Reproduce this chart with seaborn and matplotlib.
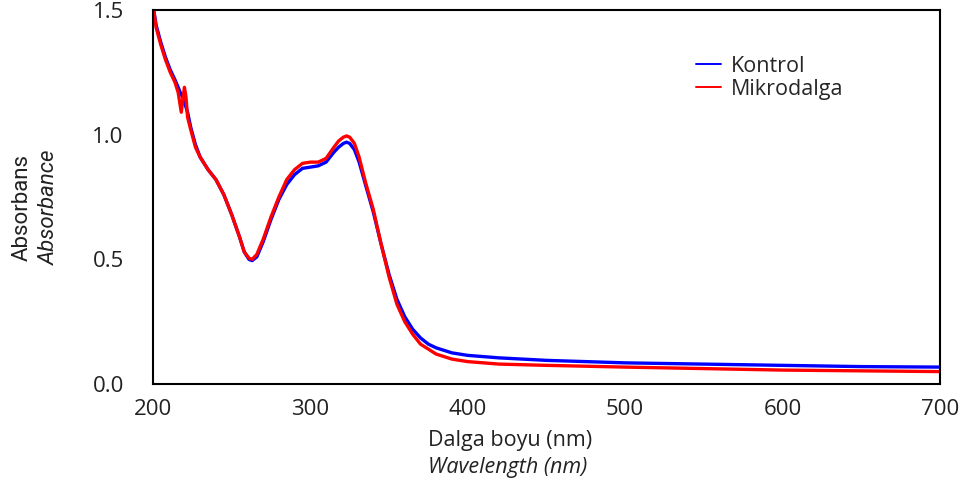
import matplotlib
matplotlib.use("Agg")
import matplotlib.pyplot as plt
from matplotlib import font_manager
import seaborn as sns
import pandas as pd

wavelength = [200, 202, 205, 208, 211, 214, 216, 218, 219, 220, 221, 222, 224, 227, 230, 235, 240,
              245, 250, 255, 258, 261, 263, 266, 270, 275, 280, 285, 290, 295, 300, 305, 310, 315,
              318, 321, 323, 325, 328, 331, 335, 340, 345, 350, 355, 360, 365, 370, 375, 380, 390,
              400, 420, 450, 500, 550, 600, 650, 700]
kontrol = [1.52, 1.44, 1.37, 1.31, 1.26, 1.22, 1.19, 1.16, 1.15, 1.13, 1.11, 1.09, 1.03, 0.96, 0.91,
           0.86, 0.82, 0.76, 0.68, 0.59, 0.53, 0.50, 0.495, 0.51, 0.57, 0.66, 0.74, 0.80, 0.84,
           0.865, 0.87, 0.875, 0.89, 0.93, 0.95, 0.965, 0.97, 0.965, 0.94, 0.89, 0.80, 0.69, 0.56,
           0.44, 0.34, 0.27, 0.22, 0.185, 0.16, 0.145, 0.125, 0.115, 0.105, 0.095, 0.085, 0.08,
           0.075, 0.07, 0.068]
mikrodalga = [1.52, 1.43, 1.36, 1.30, 1.25, 1.21, 1.17, 1.09, 1.14, 1.19, 1.15, 1.07, 1.02, 0.95,
              0.91, 0.86, 0.82, 0.76, 0.68, 0.59, 0.53, 0.505, 0.50, 0.52, 0.58, 0.67, 0.75, 0.82,
              0.86, 0.885, 0.89, 0.89, 0.905, 0.95, 0.975, 0.99, 0.995, 0.99, 0.965, 0.91, 0.81,
              0.70, 0.56, 0.43, 0.32, 0.25, 0.20, 0.16, 0.14, 0.12, 0.10, 0.09, 0.08, 0.075, 0.068,
              0.062, 0.056, 0.053, 0.05]
series_names = ["Kontrol", "Mikrodalga"]
x_ticks = [200, 300, 400, 500, 600, 700]
y_ticks = [0.0, 0.5, 1.0, 1.5]

df = pd.DataFrame({
    "wl": wavelength * 2,
    "abs": kontrol + mikrodalga,
    "grp": [series_names[0]] * len(wavelength) + [series_names[1]] * len(wavelength),
})

sns.set_theme(style="white")
plt.rcParams["font.family"] = ["Open Sans", "DejaVu Sans"]

avail = {f.name for f in font_manager.fontManager.ttflist}
narrow = "Liberation Sans Narrow" if "Liberation Sans Narrow" in avail else "Roboto"

fig = plt.figure(figsize=(9.68, 4.88), dpi=100)
ax = fig.add_axes([0.158, 0.213, 0.813, 0.7665])

sns.lineplot(data=df, x="wl", y="abs", hue="grp", palette={"Kontrol": "#0000ff", "Mikrodalga": "#ff0000"},
             linewidth=2.4, ax=ax, sort=False)

ax.set_xlim(200, 700)
ax.set_ylim(0, 1.5)
ax.set_xticks(x_ticks)
ax.set_yticks(y_ticks)
ax.set_xticklabels([str(t) for t in x_ticks])
ax.set_yticklabels([f"{t:.1f}" for t in y_ticks])
ax.tick_params(axis="both", direction="in", length=11, width=1.5, color="black",
               labelsize=16, labelcolor="#222222")
ax.tick_params(axis="y", pad=21)
ax.tick_params(axis="x", pad=11)
for s in ax.spines.values():
    s.set_color("black")
    s.set_linewidth(1.5)
ax.set_xlabel("")
ax.set_ylabel("")

leg = ax.legend(loc="upper left", bbox_to_anchor=(0.665, 0.93), frameon=False, fontsize=15.5,
                handlelength=1.2, handletextpad=0.45, labelspacing=0.1)
for h in leg.get_lines():
    h.set_linewidth(1.4)

fig.text(0.442, 0.098, "Dalga boyu (nm)", fontsize=15.5, ha="left", va="center", color="#222222")
fig.text(0.442, 0.043, "Wavelength (nm)", fontsize=15.5, ha="left", va="center", style="italic",
         color="#222222")
fig.text(0.023, 0.575, "Absorbans", fontsize=16, rotation=90, ha="center", va="center",
         family=narrow, color="#222222")
fig.text(0.051, 0.575, "Absorbance", fontsize=16, rotation=90, ha="center", va="center",
         family=narrow, style="italic", color="#222222")

fig.savefig("out.png", dpi=100)
